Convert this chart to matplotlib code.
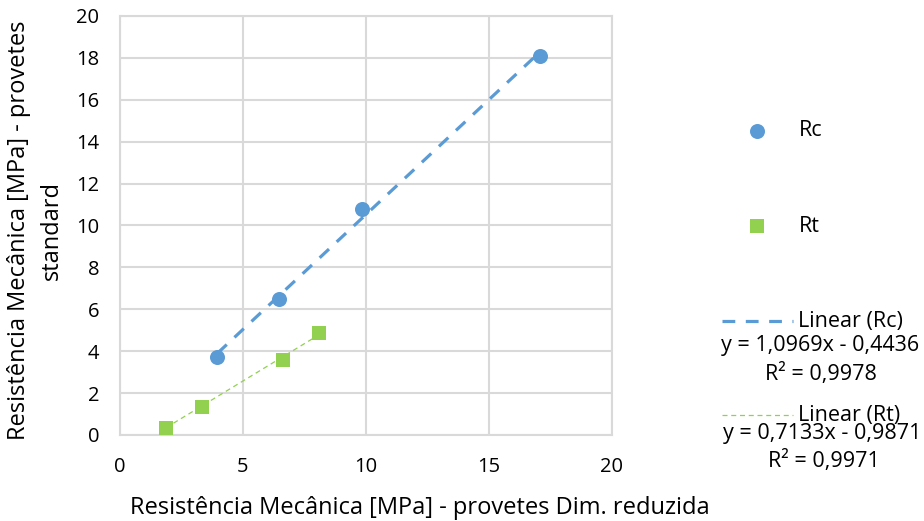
import matplotlib
matplotlib.use("Agg")
import matplotlib.pyplot as plt
from matplotlib.lines import Line2D
import numpy as np

plt.rcParams['font.family'] = ['Open Sans', 'DejaVu Sans']

# Measured values
rc_x = [3.96, 6.45, 9.85, 17.07]
rc_y = [3.71, 6.51, 10.77, 18.10]
rt_x = [1.87, 3.33, 6.63, 8.09]
rt_y = [0.35, 1.32, 3.58, 4.85]

# Linear trend coefficients (slope, intercept) and R²
rc_fit = (1.0969, -0.4436)
rt_fit = (0.7133, -0.9871)
rc_eq = "y = 1,0969x - 0,4436"
rc_r2 = "R² = 0,9978"
rt_eq = "y = 0,7133x - 0,9871"
rt_r2 = "R² = 0,9971"

ticks = [0, 5, 10, 15, 20]
yticks = [0, 2, 4, 6, 8, 10, 12, 14, 16, 18, 20]

BLUE = "#5B9BD5"
GREEN = "#92D050"
GRID = "#D9D9D9"
TXT = "#000000"
TICK_FS = 14.5
LABEL_FS = 17
LEG_FS = 15.5

W, H = 924, 521
fig = plt.figure(figsize=(W / 100, H / 100), dpi=100)
ax = fig.add_axes([120 / W, 1 - 435 / H, (612 - 120) / W, (435 - 16) / H])

ax.set_xlim(0, 20)
ax.set_ylim(0, 20)
ax.set_xticks(ticks)
ax.set_yticks(yticks)
ax.grid(True, color=GRID, linewidth=1.5)
ax.set_axisbelow(True)
for s in ax.spines.values():
    s.set_color(GRID)
    s.set_linewidth(1.5)
ax.tick_params(length=0, labelsize=TICK_FS, colors=TXT)
ax.tick_params(axis='x', pad=16)
ax.tick_params(axis='y', pad=15)

# Trend lines across each series' x range
for xs, (m, b), col, lw, dash in [
    (rc_x, rc_fit, BLUE, 2.3, (4, 3.3)),
    (rt_x, rt_fit, GREEN, 0.9, (4, 3)),
]:
    xx = np.array([min(xs), max(xs)])
    ax.plot(xx, m * xx + b, color=col, linewidth=lw, dashes=dash, zorder=2)

ax.scatter(rc_x, rc_y, s=117, marker='o', color=BLUE, zorder=3, linewidths=0)
ax.scatter(rt_x, rt_y, s=100, marker='s', color=GREEN, zorder=3, linewidths=0)


def fx(px):
    return px / W


def fy(py):
    return 1 - py / H


# Axis titles
fig.text(fx(420), fy(508), "Resistência Mecânica [MPa] - provetes Dim. reduzida",
         fontsize=LABEL_FS, ha='center', va='center')
fig.text(fx(19), fy(230), "Resistência Mecânica [MPa] - provetes",
         fontsize=LABEL_FS, ha='center', va='center', rotation=90)
fig.text(fx(52), fy(230), "standard",
         fontsize=LABEL_FS, ha='center', va='center', rotation=90)

# Legend
fig.add_artist(Line2D([fx(757)], [fy(131)], marker='o', markersize=10.8,
                      color=BLUE, linestyle='none', markeredgewidth=0))
fig.text(fx(799), fy(131), "Rc", fontsize=LEG_FS, va='center', ha='left')
fig.add_artist(Line2D([fx(757)], [fy(226)], marker='s', markersize=10,
                      color=GREEN, linestyle='none', markeredgewidth=0))
fig.text(fx(799), fy(226), "Rt", fontsize=LEG_FS, va='center', ha='left')

fig.add_artist(Line2D([fx(722), fx(793)], [fy(321), fy(321)], color=BLUE,
                      linewidth=2.3, dashes=(4, 3.3)))
fig.text(fx(798), fy(321), "Linear (Rc)", fontsize=LEG_FS, va='center', ha='left')
fig.text(fx(820), fy(346), rc_eq, fontsize=LEG_FS, va='center', ha='center')
fig.text(fx(821), fy(374), rc_r2, fontsize=LEG_FS, va='center', ha='center')

fig.add_artist(Line2D([fx(722), fx(793)], [fy(415), fy(415)], color=GREEN,
                      linewidth=0.9, dashes=(4, 3)))
fig.text(fx(798), fy(416), "Linear (Rt)", fontsize=LEG_FS, va='center', ha='left')
fig.text(fx(822), fy(433), rt_eq, fontsize=LEG_FS, va='center', ha='center')
fig.text(fx(824), fy(461), rt_r2, fontsize=LEG_FS, va='center', ha='center')

fig.savefig("out.png", dpi=100, facecolor="white")
